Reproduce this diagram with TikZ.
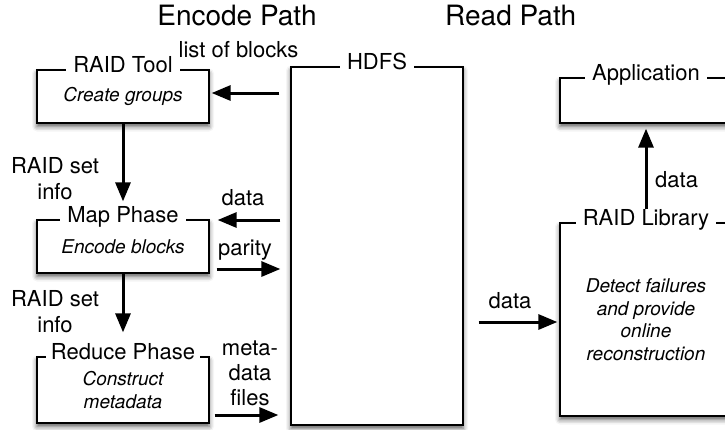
\documentclass[tikz,border=0pt]{standalone}
\usepackage{fontspec}
\setmainfont{TeX Gyre Heros}
\usetikzlibrary{arrows.meta,shadows.blur}
\begin{document}
\begin{tikzpicture}[x=1pt,y=-1pt,
 box/.style={draw=black, line width=1.3pt, fill=white, rectangle, inner sep=0pt,
   blur shadow={shadow xshift=0pt, shadow yshift=-3.5pt, shadow blur radius=5pt, shadow opacity=65}},
 ttl/.style={fill=white, inner xsep=7pt, inner ysep=2pt, text height=0.72em, text depth=0pt,
   font=\fontsize{22}{26}\selectfont},
 lbl/.style={font=\fontsize{22}{26}\selectfont, align=center, inner sep=0pt},
 desc/.style={font=\fontsize{19}{22.5}\selectfont\itshape, align=center},
 arr/.style={line width=3pt, -{Triangle[length=19pt,width=15pt]}},
 headtxt/.style={font=\fontsize{28}{32}\selectfont, inner sep=0pt}
]
\useasboundingbox (0,0) rectangle (725,429);

% boxes
\node[box, minimum width=172pt, minimum height=53pt, desc] (tool) at (123,96.5) {Create groups};
\node[box, minimum width=172pt, minimum height=53pt, desc] (map) at (123,246.5) {Encode blocks};
\node[box, minimum width=172pt, minimum height=66pt, desc] (reduce) at (123,390) {Construct\\metadata};
\node[box, minimum width=172pt, minimum height=358pt] (hdfs) at (377,246) {};
\node[box, minimum width=172pt, minimum height=45pt] (app) at (646,100.5) {};
\node[box, minimum width=172pt, minimum height=193pt, desc] (lib) at (646,319.5) {Detect failures\\and provide\\online\\reconstruction};

% box titles
\node[ttl] (ttool) at (tool.north) {RAID Tool};
\node[ttl] (tmap) at (map.north) {Map Phase};
\node[ttl, inner xsep=5pt] (treduce) at (reduce.north) {Reduce Phase};
\node[ttl] (thdfs) at (hdfs.north) {HDFS};
\node[ttl] (tapp) at (app.north) {Application};
\node[ttl] (tlib) at (lib.north) {RAID Library};

% headings
\node[headtxt, anchor=base] (hEnc) at (237,25) {Encode Path};
\node[headtxt, anchor=base west] (hRead) at (445,25) {Read Path};

% connectors
\coordinate (y1) at (0,93);
\coordinate (y2) at (0,220);
\coordinate (y3) at (0,269);
\coordinate (y4) at (0,415);
\coordinate (y5) at (0,322);
\draw[arr, shorten <=11pt, shorten >=2pt] (hdfs.west |- y1) -- (tool.east |- y1);
\draw[arr, shorten <=10pt, shorten >=8pt] (hdfs.west |- y2) -- (map.east |- y2);
\draw[arr, shorten <=7pt, shorten >=10pt] (map.east |- y3) -- (hdfs.west |- y3);
\draw[arr, shorten <=5pt, shorten >=12pt] (reduce.east |- y4) -- (hdfs.west |- y4);
\draw[arr, shorten <=15pt, shorten >=2pt] (hdfs.east |- y5) -- (lib.west |- y5);
\draw[arr, shorten >=18pt] (tool.south) -- (map.north);
\draw[arr, shorten >=24pt] (map.south) -- (reduce.north);
\draw[arr, shorten <=13pt, shorten >=5pt] (lib.north) -- (app.south);

% connector labels
\node[lbl, anchor=base] (l1) at (238.5,57) {list of blocks};
\node[lbl] (l2) at (55,179) {RAID set\\info};
\node[lbl] (l3) at (55,312) {RAID set\\info};
\node[lbl, anchor=base] (l4) at (243,205) {data};
\node[lbl, anchor=base] (l5) at (245,255) {parity};
\node[lbl, font=\fontsize{22}{25}\selectfont] (l6) at (250,373) {meta-\\data\\files};
\node[lbl, anchor=base] (l7) at (510,308) {data};
\node[lbl, anchor=base west] (l8) at (655,187) {data};
\end{tikzpicture}
\end{document}
